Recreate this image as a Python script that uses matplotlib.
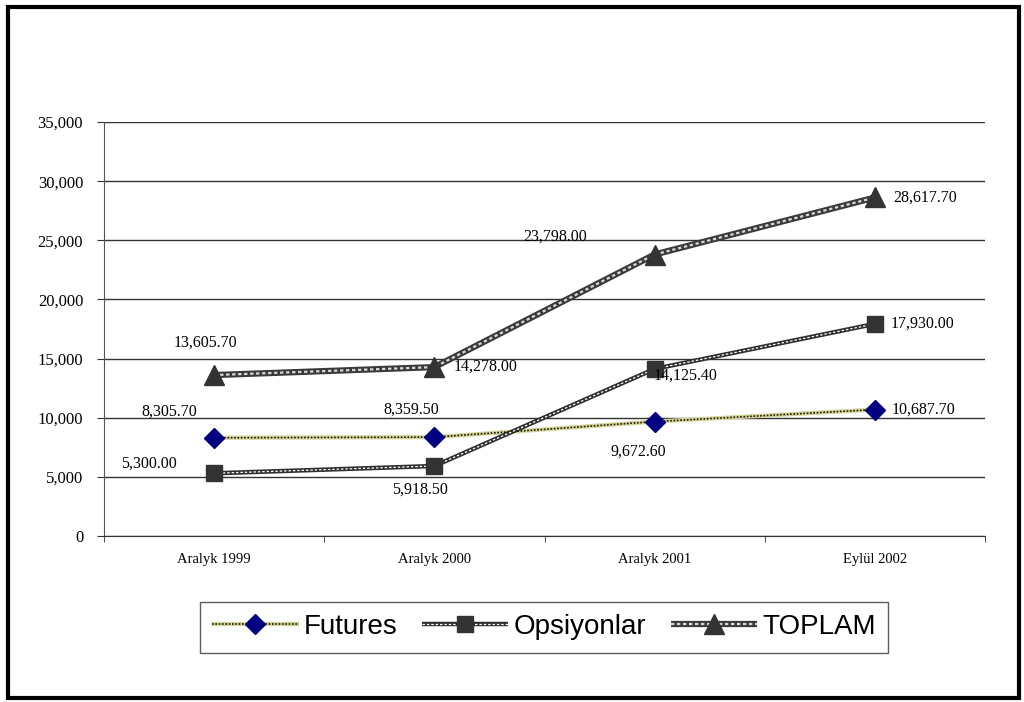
import matplotlib
matplotlib.use("Agg")
import matplotlib.pyplot as plt
from matplotlib.patches import Rectangle
from matplotlib.legend_handler import HandlerTuple
from matplotlib.ticker import FuncFormatter, FixedLocator

# Data
categories = ["Aralyk 1999", "Aralyk 2000", "Aralyk 2001", "Eylül 2002"]
futures = [8305.70, 8359.50, 9672.60, 10687.70]
opsiyonlar = [5300.00, 5918.50, 14125.40, 17930.00]
toplam = [13605.70, 14278.00, 23798.00, 28617.70]
series_names = ["Futures", "Opsiyonlar", "TOPLAM"]
y_ticks = [0, 5000, 10000, 15000, 20000, 25000, 30000, 35000]

# Label offsets in pixels (dx, dy) relative to each point
futures_off = [(-45, 26), (-23, 27), (-16, -30), (49, 0)]
opsiyon_off = [(-65, 10), (-14, -24), (31, -7), (48, 0)]
toplam_off = [(-9, 32), (51, 0), (-100, 18), (50, 0)]

serif = "Liberation Serif"
W, H = 1024, 702
fig = plt.figure(figsize=(W / 100, H / 100), dpi=100)
ax = fig.add_axes([104 / W, 1 - 536 / H, (985 - 104) / W, (536 - 122) / H])

x = list(range(len(categories)))

# Series styles: base line, patterned overlay, marker
styles = {
    "Futures": dict(base=dict(color="#d4d49a", lw=3.0),
                    over=dict(color="#1a1a00", lw=1.2, dashes=(1.0, 1.0)),
                    mk=dict(marker="D", ms=10, mfc="#000080", mec="#000080")),
    "Opsiyonlar": dict(base=dict(color="#2e2e2e", lw=3.2),
                       over=dict(color="#ffffff", lw=0.9, dashes=(2.0, 1.5)),
                       mk=dict(marker="s", ms=12, mfc="#333333", mec="#333333")),
    "TOPLAM": dict(base=dict(color="#3a3a3a", lw=4.5),
                   over=dict(color="#d8d8d8", lw=1.6, dashes=(1.5, 1.2)),
                   mk=dict(marker="^", ms=15, mfc="#333333", mec="#333333")),
}

handles = []
for name, vals, offs in zip(series_names, [futures, opsiyonlar, toplam],
                            [futures_off, opsiyon_off, toplam_off]):
    st = styles[name]
    l1, = ax.plot(x, vals, solid_capstyle="butt", zorder=3, **st["base"])
    l2, = ax.plot(x, vals, zorder=4, **st["over"])
    l3, = ax.plot(x, vals, ls="none", zorder=5, **st["mk"])
    handles.append((l1, l2, l3))
    for xi, v, (dx, dy) in zip(x, vals, offs):
        ax.annotate(f"{v:,.2f}", (xi, v), xytext=(dx, dy),
                    textcoords="offset pixels", ha="center", va="center",
                    fontsize=11.5, family=serif, zorder=6)

ax.set_xlim(-0.5, 3.5)
ax.set_ylim(0, 35000)

# Gridlines
ax.set_yticks(y_ticks)
ax.yaxis.set_major_formatter(FuncFormatter(lambda v, p: f"{int(v):,}"))
ax.grid(axis="y", color="#333333", lw=1.0, zorder=1)
ax.set_axisbelow(True)

ax.set_xticks(x)
ax.set_xticklabels(categories, family=serif, fontsize=10.5)
ax.xaxis.set_minor_locator(FixedLocator([-0.5, 0.5, 1.5, 2.5, 3.5]))
ax.tick_params(axis="x", which="major", length=0, pad=12)
ax.tick_params(axis="x", which="minor", length=4, color="#333333")
ax.tick_params(axis="y", length=5, color="#333333", pad=10)
for lab in ax.get_yticklabels():
    lab.set_family(serif)
    lab.set_fontsize(12)

for s in ["top", "right"]:
    ax.spines[s].set_visible(False)
ax.spines["left"].set_color("#555555")
ax.spines["bottom"].set_color("#333333")

leg = fig.legend(handles, series_names, loc="center",
                 bbox_to_anchor=(544 / W, 1 - 627 / H), ncol=3,
                 handler_map={tuple: HandlerTuple(ndivide=1)},
                 prop={"family": "Liberation Sans", "size": 20},
                 frameon=True, fancybox=False, edgecolor="#333333",
                 handlelength=3.1, handletextpad=0.18, columnspacing=0.9,
                 borderpad=0.45, borderaxespad=0)
leg.get_frame().set_linewidth(1.0)

# Outer frame
fig.patches.append(Rectangle((8 / W, 4 / H), (1019 - 8) / W, (697 - 6) / H,
                             transform=fig.transFigure, fill=False,
                             edgecolor="black", lw=3.0))

fig.savefig("out.png", dpi=100)
